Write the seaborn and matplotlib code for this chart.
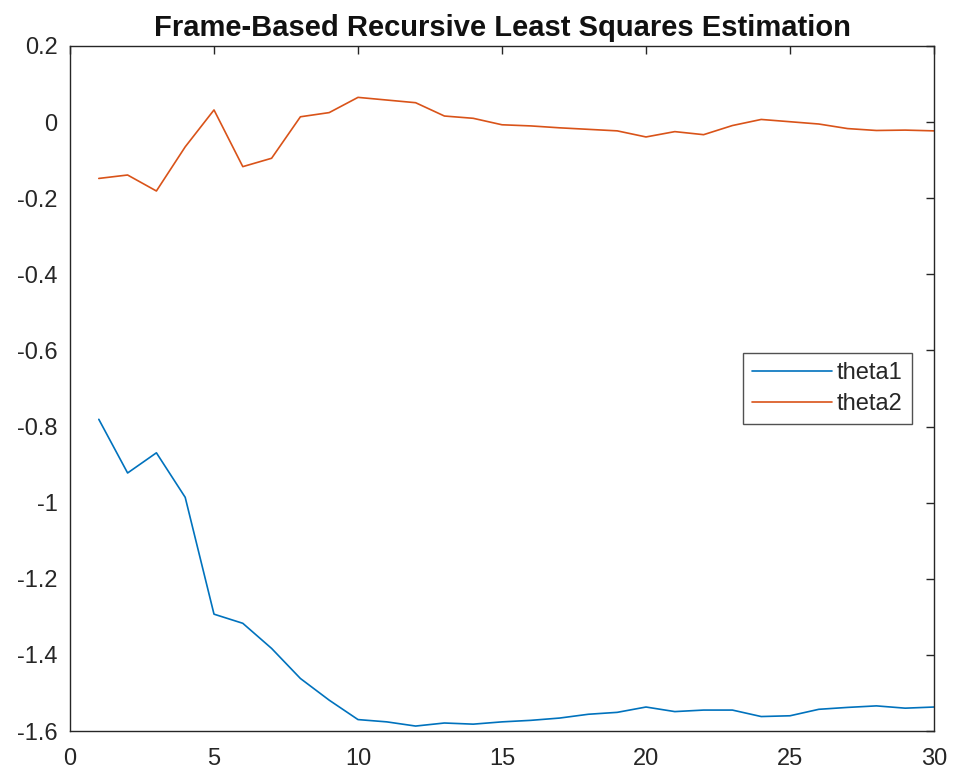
import numpy as np
import pandas as pd
import matplotlib
matplotlib.use("Agg")
import matplotlib.pyplot as plt
import seaborn as sns

# data
frames = list(range(1, 31))
theta1 = [-0.781, -0.922, -0.869, -0.986, -1.293, -1.317, -1.383, -1.462, -1.519, -1.570,
          -1.576, -1.587, -1.579, -1.582, -1.576, -1.572, -1.566, -1.556, -1.551, -1.537,
          -1.549, -1.545, -1.545, -1.562, -1.560, -1.543, -1.538, -1.534, -1.540, -1.537]
theta2 = [-0.148, -0.139, -0.181, -0.065, 0.032, -0.117, -0.095, 0.014, 0.025, 0.065,
          0.058, 0.051, 0.016, 0.010, -0.007, -0.010, -0.015, -0.019, -0.023, -0.039,
          -0.025, -0.033, -0.009, 0.007, 0.001, -0.005, -0.017, -0.022, -0.021, -0.023]

x_ticks = [0, 5, 10, 15, 20, 25, 30]
y_ticks = [-1.6, -1.4, -1.2, -1, -0.8, -0.6, -0.4, -0.2, 0, 0.2]
y_labels = ['-1.6', '-1.4', '-1.2', '-1', '-0.8', '-0.6', '-0.4', '-0.2', '0', '0.2']

df = pd.DataFrame({
    'frame': frames * 2,
    'value': theta1 + theta2,
    'param': ['theta1'] * len(frames) + ['theta2'] * len(frames),
})

sns.set_style("white")
plt.rcParams['font.family'] = ['Liberation Sans', 'DejaVu Sans']

fig = plt.figure(figsize=(9.56, 7.76), dpi=100)
ax = fig.add_axes([70 / 956, 1 - 731 / 776, 864 / 956, 685 / 776])

palette = {'theta1': '#0072BD', 'theta2': '#D95319'}
sns.lineplot(data=df, x='frame', y='value', hue='param', palette=palette,
             linewidth=1.2, ax=ax)

ax.set_xlim(0, 30)
ax.set_ylim(-1.6, 0.2)
ax.set_xticks(x_ticks)
ax.set_yticks(y_ticks)
ax.set_yticklabels(y_labels)
ax.set_xlabel('')
ax.set_ylabel('')
ax.tick_params(direction='in', length=6, width=1, top=True, right=True,
               labelsize=17, colors='#262626')
ax.tick_params(axis='x', pad=12)
ax.tick_params(axis='y', pad=9)
for s in ax.spines.values():
    s.set_color('#262626')
    s.set_linewidth(1)
ax.set_title('Frame-Based Recursive Least Squares Estimation',
             fontsize=21, fontweight='bold', pad=7, color='#111111')

# legend box placed where it sits in the reference
leg = ax.legend(loc='upper left', bbox_to_anchor=(743 / 956, 1 - 353 / 776),
                bbox_transform=fig.transFigure, fontsize=17, frameon=True,
                fancybox=False, borderpad=0.38, handlelength=3.4,
                handletextpad=0.2, labelspacing=0.4, borderaxespad=0)
leg.get_frame().set_edgecolor('#262626')
leg.get_frame().set_linewidth(1)
for line in leg.get_lines():
    line.set_linewidth(1.2)

fig.savefig('out.png', dpi=100)
